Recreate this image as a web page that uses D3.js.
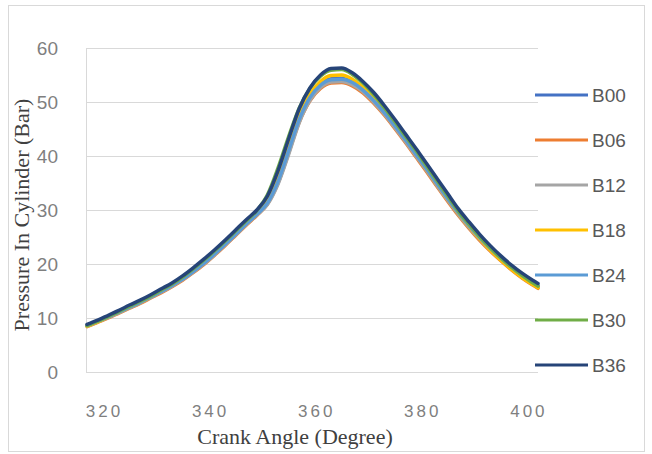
<!DOCTYPE html>
<html><head><meta charset="utf-8">
<script src="https://cdn.jsdelivr.net/npm/d3@7"></script>
<style>html,body{margin:0;padding:0;background:#fff;}svg{display:block;}</style>
</head><body>
<script>
const angles = [317,319,321,323,325,327,329,331,333,335,337,339,341,343,345,347,349,351,353,355,357,359,361,363,365,367,369,371,373,375,377,379,381,383,385,387,389,391,393,395,397,399,401,402];
const seriesNames = ["B00","B06","B12","B18","B24","B30","B36"];
const seriesColors = ["#4472C4","#ED7D31","#A5A5A5","#FFC000","#5B9BD5","#70AD47","#264478"];
const B00 = [8.6,9.4,10.2,11.1,12.0,12.9,13.9,14.9,16.0,17.2,18.6,20.1,21.8,23.6,25.5,27.4,29.2,31.2,35.0,40.6,46.5,50.7,53.2,54.3,54.4,53.7,52.3,50.4,48.1,45.6,42.9,40.2,37.4,34.6,31.9,29.3,26.9,24.7,22.6,20.8,19.1,17.7,16.4,15.9];
const B06 = [8.4,9.2,10.0,10.9,11.8,12.7,13.7,14.7,15.8,17.0,18.4,19.9,21.6,23.4,25.3,27.2,29.0,31.1,35.1,40.7,46.3,50.2,52.5,53.5,53.6,53.0,51.7,49.8,47.6,45.1,42.5,39.8,37.1,34.3,31.6,29.0,26.6,24.4,22.4,20.6,18.9,17.4,16.1,15.5];
const B12 = [8.5,9.3,10.1,11.0,11.9,12.8,13.8,14.8,15.9,17.1,18.5,20.0,21.7,23.5,25.4,27.3,29.1,31.0,34.8,40.3,46.2,50.3,52.7,53.7,53.8,53.2,51.9,50.0,47.8,45.3,42.7,40.0,37.3,34.5,31.8,29.2,26.8,24.6,22.6,20.8,19.1,17.6,16.3,15.7];
const B18 = [8.5,9.3,10.2,11.1,12.0,12.9,13.9,15.0,16.1,17.4,18.8,20.4,22.1,23.9,25.8,27.7,29.5,31.9,36.2,41.9,47.5,51.4,53.8,54.9,55.0,54.2,52.7,50.7,48.3,45.8,43.1,40.4,37.6,34.8,32.1,29.4,27.0,24.7,22.6,20.7,19.0,17.5,16.2,15.6];
const B24 = [8.6,9.4,10.2,11.1,12.0,12.9,13.9,14.9,16.0,17.2,18.6,20.1,21.8,23.6,25.5,27.4,29.2,31.3,35.3,41.0,46.8,50.8,53.1,54.1,54.2,53.6,52.2,50.3,48.1,45.6,43.0,40.3,37.6,34.8,32.1,29.5,27.1,24.9,22.9,21.1,19.4,17.9,16.7,16.1];
const B30 = [8.6,9.4,10.3,11.2,12.2,13.1,14.1,15.2,16.3,17.6,19.1,20.7,22.4,24.2,26.1,28.0,29.9,32.8,37.8,43.6,48.9,52.5,54.8,55.9,56.0,55.1,53.5,51.4,49.0,46.4,43.7,41.0,38.2,35.4,32.6,29.8,27.4,25.1,23.0,21.1,19.4,17.9,16.5,15.9];
const B36 = [8.8,9.6,10.5,11.4,12.4,13.3,14.3,15.4,16.5,17.8,19.3,20.9,22.6,24.4,26.3,28.2,30.0,32.6,37.3,43.2,48.8,52.6,55.0,56.2,56.3,55.4,53.8,51.8,49.4,46.8,44.1,41.4,38.6,35.8,33.0,30.2,27.8,25.5,23.4,21.5,19.8,18.3,17.0,16.4];
const seriesValues = [B00,B06,B12,B18,B24,B30,B36];
const xTicks = [320,340,360,380,400];
const yTicks = [0,10,20,30,40,50,60];
const xTitle = "Crank Angle (Degree)";
const yTitle = "Pressure In Cylinder (Bar)";

const W = 652, H = 454;
const svg = d3.select("body").append("svg").attr("width", W).attr("height", H);
svg.append("rect").attr("x",8.5).attr("y",5.5).attr("width",636).attr("height",446)
  .attr("fill","#fff").attr("stroke","#d9d9d9");

const x = d3.scaleLinear().domain([316.8, 402]).range([86, 538]);
const y = d3.scaleLinear().domain([0, 60]).range([372, 48]);

// gridlines
svg.append("g").selectAll("line").data(yTicks).join("line")
  .attr("x1",86).attr("x2",538).attr("y1",d=>y(d)+0.5).attr("y2",d=>y(d)+0.5)
  .attr("stroke","#d9d9d9").attr("stroke-width",1);
svg.append("line").attr("x1",86.5).attr("x2",86.5).attr("y1",y(60)).attr("y2",y(0))
  .attr("stroke","#d9d9d9");

// y tick labels
svg.append("g").selectAll("text").data(yTicks).join("text")
  .attr("x",58).attr("y",d=>y(d)).attr("dy","0.35em").attr("text-anchor","end")
  .attr("font-family","Liberation Sans, Arial, sans-serif").attr("font-size",19)
  .attr("fill","#7f7f7f").text(d=>d);

// x tick labels
svg.append("g").selectAll("text").data(xTicks).join("text")
  .attr("x",d=>x(d)+1.5).attr("y",411).attr("dy","0.35em").attr("text-anchor","middle")
  .attr("font-family","Liberation Sans, Arial, sans-serif").attr("font-size",17)
  .style("letter-spacing","3px")
  .attr("fill","#7f7f7f").text(d=>d);

// titles
svg.append("text").attr("x",295).attr("y",444).attr("text-anchor","middle")
  .attr("font-family","Liberation Serif, Times New Roman, serif").attr("font-size",22)
  .attr("fill","#404040").text(xTitle);
svg.append("text").attr("transform","translate(29,215) rotate(-90)").attr("text-anchor","middle")
  .attr("font-family","Liberation Serif, Times New Roman, serif").attr("font-size",22)
  .attr("fill","#404040").text(yTitle);

// lines
const line = d3.line().x((d,i)=>x(angles[i])).y(d=>y(d)).curve(d3.curveMonotoneX);
svg.append("g").selectAll("path").data(seriesValues).join("path")
  .attr("d",d=>line(d)).attr("fill","none")
  .attr("stroke",(d,i)=>seriesColors[i]).attr("stroke-width",3.5)
  .attr("stroke-linejoin","round").attr("stroke-linecap","round");

// legend
const lg = svg.append("g").selectAll("g").data(seriesNames).join("g")
  .attr("transform",(d,i)=>`translate(535,${95+i*45})`);
lg.append("line").attr("x1",0).attr("x2",53).attr("y1",0).attr("y2",0)
  .attr("stroke",(d,i)=>seriesColors[i]).attr("stroke-width",3);
lg.append("text").attr("x",57).attr("y",0).attr("dy","0.35em")
  .attr("font-family","Liberation Sans, Arial, sans-serif").attr("font-size",19)
  .attr("fill","#595959").text(d=>d);
</script>
</body></html>
